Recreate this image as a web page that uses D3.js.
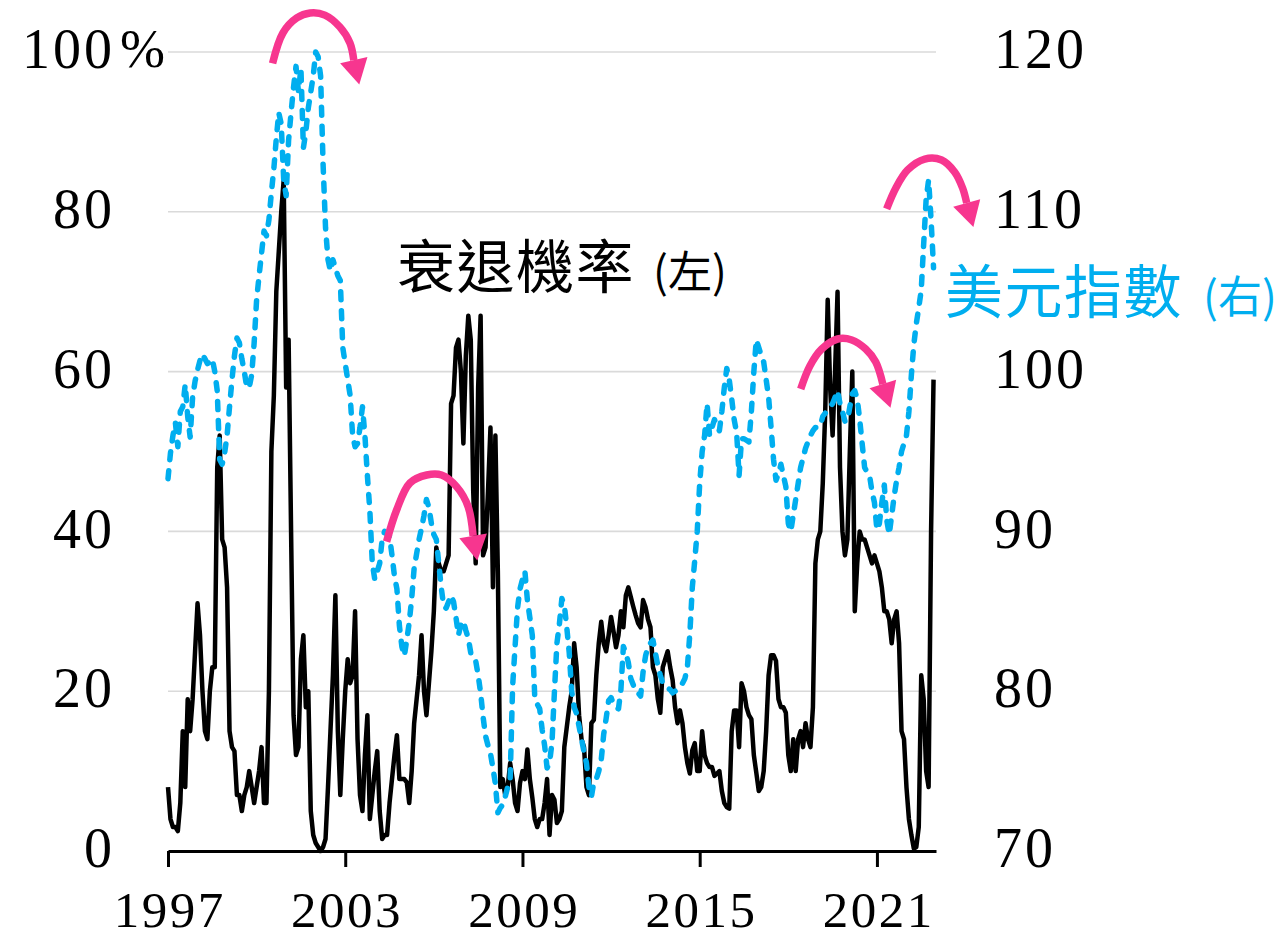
<!DOCTYPE html>
<html><head><meta charset="utf-8">
<script src="https://cdn.jsdelivr.net/npm/d3@7/dist/d3.min.js"></script>
<style>body{margin:0;background:#fff}svg{display:block}</style>
</head><body>
<svg id="chart" width="1286" height="934"></svg>
<script>
// ---------- data (monthly, Jan 1997 – Dec 2022) ----------
const startYear = 1997;
const recessionProb = [
 8,4,3,3,2.5,6,15,8,19,15,19,25,
 31,27,20,15,14,20,23,23,48,52,39,38,
 33,15,13,12.5,7,7,5,7,8,10,8,6,
 8,10,13,6,6,20,50,57,70,75,80,84,
 58,64,40,17,12,13,24,27,18,20,5,2,
 1,0.5,0,0.5,1.5,8,15,22,32,15,7,14,
 20,24,21,22,30,14,7,5,12,17,4,7,
 10,12.5,5,1.5,2,2,6,9,12,14.5,9,9,
 9,8.6,6,10,16,19,22,27,20,17,21,25,
 30,38,36,35,35,36,37,56,57,63,64,60,
 51,62,67,64,45,36,58,67,37,38,45,53,
 33,52,35,8,9,7,8,11,9,6,5,8.5,
 10,9,12.7,9,6.7,4,3,4,4,6,9,2,
 7,6.4,3.5,4,5,13,15.5,18,20,26,23,17,
 14,13,8,7,16,16.4,22,26,28.7,26,25,27,
 29.3,27.5,25.5,27,30,28,32,33,31.8,30.6,29.5,28.5,
 28,31.4,30.5,29,28,23,22,19,17.3,23,24,25,
 23,21.4,18,16,17.6,16,13,11,9.7,12.6,13.5,10,
 10,15,12,11,10.5,10.5,9.4,9.7,10,7.5,6,5.5,
 5.3,15,17.6,17.6,13,21,20,18,17,16.5,12,9.8,
 7.5,8,10,15,22,24.5,24.5,23.8,19,18,18,17.3,
 12,10,14,10,14,15,13,16,14,13,18,36,
 39,40,46,55,69,58,52,60,70,48,40,37,
 39,50,60,30,36,40,39,39,38,37,36,37,
 36,35,33,30,30,29,26,29,30,26,15,14,
 8,4,2,0.3,0.5,3,22,19,10,8,40,59
];
const dollarIndex = [
 93.3,94.9,96,96.8,95.3,97.5,97.8,99.2,97.2,95.9,98.4,99.4,
 100.1,100.7,101.1,100.8,100.5,100.6,100.8,100,98.8,94.5,94.2,94.9,
 96,97.8,99.5,101,102.1,101.8,100.8,100,99,99,99.8,101.8,
 104.5,106,107.4,108.8,108.5,109.5,111.2,112.7,114.6,116.2,115.5,112,
 111,114.5,116.2,117.8,119.1,117.5,119,114,115,116.5,117.5,118.5,
 120,119.7,118.5,113,109,107,106.3,107,106.5,106,105.7,101.5,
 100.5,99.5,98.5,96,95.3,95.5,96.5,97.8,96,93.5,91.3,88,
 87,87.5,88,89.5,90,89.8,89.7,88.5,87.2,86.4,84.1,82.8,
 82.2,83.2,84.3,85.8,87.7,88.6,89.5,90.2,91,92,91.5,90.5,
 89.8,89.5,88,86.5,85.3,85.2,85.6,86,85.6,84.6,83.5,84.2,
 84.4,83.8,83.3,82.4,82,81.9,81,79.9,78.4,77.2,76.6,76.1,
 75.2,74.2,72.4,72.7,72.9,73.4,74,74.5,80.3,82.8,85.2,86.4,
 87,87.5,85.7,84.6,83.5,79.6,79.2,78.9,77.6,76.6,75.2,75.5,
 76.8,80,83,84.2,85.8,85.4,84,82.4,80,79,78.6,77.8,
 77,76.2,75.5,74,73.4,74.3,74.5,75,75.7,77.3,78.3,79.4,
 79.6,79.2,79,78.9,80.1,82.8,82.4,81.8,80.8,80.4,80,79.9,
 79.7,81.2,82.2,82.8,83,83.2,82.4,81.6,81,80.5,80.4,80.2,
 80.1,79.9,80,80.1,80.3,80.5,80.8,81.5,83.6,86.5,88.2,90,
 93,95,96,98,96,96.5,97,96.6,96.3,97.5,99,100.2,
 99.5,98.3,97,96.2,93.5,95.8,95.8,95.7,95.6,97.5,100,102,
 101.5,101,100.6,99.5,98.4,96.5,94.5,93.2,93.6,94.2,93.5,92.8,
 90.5,90,91,92,93,94,94.6,95.2,95.6,96,96.3,96.5,
 96.5,96.6,97.2,97.4,97.6,97.8,98,98.4,98.8,98,97.5,96.9,
 96.9,97.8,98.6,98.8,98.3,97,95.5,94,93.7,93.5,92.5,91.8,
 90.1,90.5,91.8,92.9,90.7,89.8,91,92.2,93.2,94,95,95.5,
 96,97.5,99.8,101.7,103,104,105.1,108,110.8,112,109.5,106.5
];
const leftTicks = [0, 20, 40, 60, 80, 100];
const rightTicks = [70, 80, 90, 100, 110, 120];
const xTickYears = [1997, 2003, 2009, 2015, 2021];
const probLabel = "衰退機率";
const probSide = "(左)";
const dollarLabel = "美元指數";
const dollarSide = "(右)";
// annotation arrows: [year, dollar-index value] points along each arc
const arrowArcs = [
  [[2000.54,119.29],[2000.89,121.19],[2001.36,122.13],[2001.81,122.44],[2002.31,122.31],[2002.82,121.56],[2003.16,120.56],[2003.29,119.49]],
  [[2004.40,89.36],[2004.74,91.34],[2005.19,93.03],[2005.76,93.53],[2006.26,93.53],[2006.77,92.80],[2007.16,91.55],[2007.33,89.72]],
  [[2018.42,98.91],[2018.73,100.35],[2019.13,101.41],[2019.67,102.04],[2020.15,101.98],[2020.62,101.41],[2020.96,100.60],[2021.20,99.22]],
  [[2021.33,110.18],[2021.64,111.49],[2022.04,112.62],[2022.62,113.30],[2023.19,113.24],[2023.63,112.49],[2023.90,111.49],[2024.04,110.55]]
];

// ---------- chart ----------
const svg = d3.select("#chart");
const x = d3.scaleLinear().domain([1997, 2023]).range([168, 936]);
const yL = d3.scaleLinear().domain([0, 100]).range([851, 52]);
const yR = d3.scaleLinear().domain([70, 120]).range([851, 52]);
const tOf = i => startYear + i / 12;

const serif = "'Liberation Serif','Times New Roman',serif";
const cjk = "'Noto Sans CJK TC','Noto Sans CJK SC',sans-serif";
const blue = "#00AEEF";
const pink = "#F7368F";

// gridlines
svg.append("g").selectAll("line").data(leftTicks.filter(d => d > 0)).join("line")
  .attr("x1", x(1997)).attr("x2", x.range()[1])
  .attr("y1", d => yL(d)).attr("y2", d => yL(d))
  .attr("stroke", "#dadada").attr("stroke-width", 1.6);

// left axis
const gL = svg.append("g").attr("transform", `translate(${x(1997)},0)`)
  .call(d3.axisLeft(yL).tickValues(leftTicks).tickSize(0).tickPadding(53).tickFormat(d => d));
gL.select(".domain").remove();
gL.selectAll("text").attr("font-family", serif).attr("font-size", 56).attr("letter-spacing", 3)
  .attr("fill", "#000").attr("dy", "0.28em");
svg.append("text").attr("x", x(1997) - 48).attr("y", yL(100)).attr("dy", "0.28em")
  .attr("font-family", serif).attr("font-size", 54).text("%");

// right axis
const gR = svg.append("g").attr("transform", `translate(${x.range()[1]},0)`)
  .call(d3.axisRight(yR).tickValues(rightTicks).tickSize(0).tickPadding(58));
gR.select(".domain").remove();
gR.selectAll("text").attr("font-family", serif).attr("font-size", 56).attr("letter-spacing", 3)
  .attr("fill", "#000").attr("dy", "0.28em");

// bottom axis
const gB = svg.append("g").attr("transform", `translate(0,${yL(0)})`)
  .call(d3.axisBottom(x).tickValues(xTickYears).tickFormat(d3.format("d")).tickSize(16).tickSizeOuter(0).tickPadding(24));
gB.select(".domain").attr("stroke", "#000").attr("stroke-width", 3);
gB.selectAll(".tick line").attr("stroke", "#000").attr("stroke-width", 3);
gB.selectAll("text").attr("font-family", serif).attr("font-size", 51).attr("letter-spacing", 2.5)
  .attr("fill", "#000").attr("dx", 1.25);

// recession probability (left)
svg.append("path").datum(recessionProb)
  .attr("fill", "none").attr("stroke", "#000").attr("stroke-width", 4.5)
  .attr("stroke-linejoin", "round")
  .attr("d", d3.line().x((d, i) => x(tOf(i))).y(d => yL(d)));

// dollar index (right)
svg.append("path").datum(dollarIndex)
  .attr("fill", "none").attr("stroke", blue).attr("stroke-width", 5.5)
  .attr("stroke-linecap", "round").attr("stroke-linejoin", "round")
  .attr("stroke-dasharray", "8,11")
  .attr("d", d3.line().x((d, i) => x(tOf(i))).y(d => yR(d)));

// arrows
const arcLine = d3.line().x(d => x(d[0])).y(d => yR(d[1])).curve(d3.curveCatmullRom);
arrowArcs.forEach(pts => {
  svg.append("path").datum(pts).attr("fill", "none").attr("stroke", pink)
    .attr("stroke-width", 7.5).attr("d", arcLine);
  const a = pts[pts.length - 2], b = pts[pts.length - 1];
  const ax = x(a[0]), ay = yR(a[1]), bx = x(b[0]), by = yR(b[1]);
  let dx = bx - ax, dy = by - ay; const L = Math.hypot(dx, dy); dx /= L; dy /= L;
  const len = 25, hw = 14;
  const tip = [bx + dx * len, by + dy * len];
  const c1 = [bx - dy * hw, by + dx * hw], c2 = [bx + dy * hw, by - dx * hw];
  svg.append("path").attr("fill", pink)
    .attr("d", `M${tip}L${c1}L${c2}Z`);
});

// labels
const t1 = svg.append("text").attr("x", 397).attr("y", 288).attr("font-family", cjk).attr("fill", "#000");
t1.append("tspan").attr("font-size", 58).attr("letter-spacing", 1.5).text(probLabel);
t1.append("tspan").attr("font-size", 44).attr("dx", 18).text(probSide);
const t2 = svg.append("text").attr("x", 945).attr("y", 313).attr("font-family", cjk).attr("fill", blue);
t2.append("tspan").attr("font-size", 58).attr("letter-spacing", 1.5).text(dollarLabel);
t2.append("tspan").attr("font-size", 44).attr("dx", 20).text(dollarSide);
</script>
</body></html>
